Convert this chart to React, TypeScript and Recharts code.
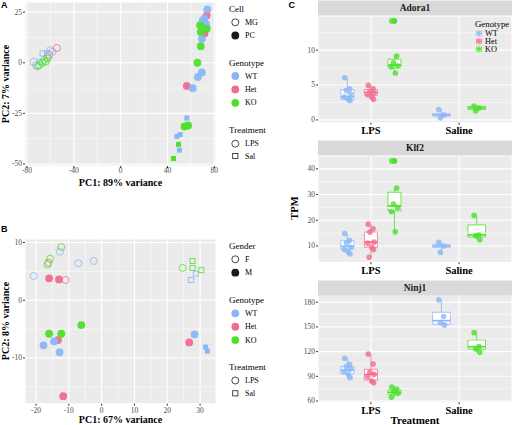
import React from 'react';
import {
  ScatterChart,
  ComposedChart,
  Scatter,
  XAxis,
  YAxis,
  CartesianGrid,
  ReferenceLine,
  ReferenceArea,
} from 'recharts';

const SERIF = '"Liberation Serif", "Times New Roman", serif';
const SANS = '"Liberation Sans", Arial, sans-serif';

const COL: Record<string, string> = { WT: '#8AB6F8', Het: '#F26C8E', KO: '#4CE02C' };
const PANEL_BG = '#EBEBEB';
const STRIP_BG = '#D9D9D9';
const TICK_TEXT = '#4D4D4D';
const TICK_LINE = '#333333';

const GENOTYPES = ['WT', 'Het', 'KO'];
const CELL_LABELS = ['MG', 'PC'];
const GENDER_LABELS = ['F', 'M'];
const TRT_LABELS = ['LPS', 'Sal'];
const TREATMENT_CATS = ['LPS', 'Saline'];

// ---------- Panel A ----------
const A_X_TICKS = [-80, -40, 0, 40, 80];
const A_X_MINOR = [-60, -20, 20, 60];
const A_Y_TICKS = [-50, -25, 0, 25];
const A_Y_MINOR = [-37.5, -12.5, 12.5];

const A_WT_MG_LPS = [
  { x: -74.3, y: 0.5 }, { x: -72.4, y: -1.2 }, { x: -62.4, y: 2.9 }, { x: -60.2, y: 6.2 }, { x: -58.2, y: 5.4 },
];
const A_WT_MG_SAL = [{ x: -68.7, y: 0.5 }, { x: -66.7, y: 4.6 }, { x: -63.0, y: 4.9 }];
const A_HET_MG_LPS = [{ x: -54.5, y: 7.3 }, { x: -61.0, y: 4.0 }];
const A_KO_MG_LPS = [
  { x: -70.9, y: -1.7 }, { x: -69.5, y: -1.2 }, { x: -66.7, y: 0.0 }, { x: -65.3, y: 1.3 }, { x: -63.9, y: 0.5 }, { x: -62.4, y: 2.1 },
];
const A_WT_PC_LPS = [
  { x: 74.0, y: 26.3 }, { x: 71.5, y: 21.8 }, { x: 70.1, y: 20.9 }, { x: 72.9, y: 19.0 }, { x: 69.3, y: 11.9 },
  { x: 69.3, y: -4.8 }, { x: 65.9, y: -7.0 }, { x: 61.6, y: -12.6 },
];
const A_HET_PC_LPS = [{ x: 73.5, y: 23.4 }, { x: 71.5, y: 14.4 }, { x: 56.5, y: -11.5 }];
const A_KO_PC_LPS = [
  { x: 67.8, y: 18.5 }, { x: 73.5, y: 16.8 }, { x: 68.4, y: 15.2 }, { x: 68.4, y: 8.2 }, { x: 65.5, y: 0.0 },
  { x: 54.5, y: -31.5 }, { x: 57.6, y: -31.0 },
];
const A_WT_PC_SAL = [{ x: 56.5, y: -27.3 }, { x: 48.0, y: -36.4 }, { x: 50.8, y: -35.5 }, { x: 50.2, y: -43.2 }];
const A_KO_PC_SAL = [{ x: 49.4, y: -40.3 }, { x: 45.1, y: -47.3 }];

// ---------- Panel B ----------
const B_X_TICKS = [-20, -10, 0, 10, 20, 30];
const B_X_MINOR = [-15, -5, 5, 15, 25];
const B_Y_TICKS = [-10, 0, 10];
const B_Y_MINOR = [-15, -5, 5];

const B_WT_F_LPS = [{ x: -12.7, y: 8.4 }, { x: -7.1, y: 6.4 }, { x: -2.4, y: 6.8 }, { x: -20.7, y: 4.2 }];
const B_HET_F_LPS = [{ x: -16.2, y: 6.5 }, { x: -11.0, y: 3.5 }];
const B_KO_F_LPS = [{ x: -12.3, y: 9.2 }, { x: -15.7, y: 7.2 }, { x: -16.5, y: 6.2 }, { x: 24.7, y: 5.6 }];
const B_WT_F_SAL = [{ x: 28.7, y: 4.6 }, { x: 27.2, y: 3.5 }];
const B_KO_F_SAL = [{ x: 27.7, y: 6.8 }, { x: 27.7, y: 5.6 }, { x: 30.4, y: 5.2 }];
const B_WT_M_LPS = [{ x: -14.5, y: -7.1 }, { x: -17.7, y: -7.8 }, { x: -12.8, y: -9.0 }, { x: 28.3, y: -5.9 }];
const B_HET_M_LPS = [{ x: -16.0, y: 3.8 }, { x: -13.0, y: 3.6 }, { x: -13.3, y: -6.9 }, { x: -11.7, y: -16.6 }, { x: 26.7, y: -7.3 }];
const B_KO_M_LPS = [{ x: -6.2, y: -4.3 }, { x: -16.0, y: -5.8 }, { x: -12.3, y: -5.8 }];
const B_WT_M_SAL = [{ x: 31.7, y: -8.1 }, { x: 32.2, y: -8.8 }];

// ---------- Panel C ----------
const POS: Record<string, number> = { LPS: 1, Saline: 2 };
const DODGE: Record<string, Record<string, number>> = {
  LPS: { WT: -0.267, Het: 0, KO: 0.267 },
  Saline: { WT: -0.2, KO: 0.2 },
};
const HALF: Record<string, number> = { LPS: 0.074, Saline: 0.1 };
const JITTER = [-0.03, 0.025, -0.012, 0.035, -0.035, 0.01, 0.03, -0.02];

const ADORA1_BOX = [
  { trt: 'LPS', geno: 'WT', lo: 2.8, q1: 2.95, med: 3.3, q3: 4.35, hi: 6.05, out: [] as number[] },
  { trt: 'LPS', geno: 'Het', lo: 2.95, q1: 3.55, med: 3.95, q3: 4.35, hi: 4.95, out: [] as number[] },
  { trt: 'LPS', geno: 'KO', lo: 6.7, q1: 7.5, med: 7.85, q3: 8.7, hi: 9.15, out: [14.2] },
  { trt: 'Saline', geno: 'WT', lo: 0.3, q1: 0.55, med: 0.72, q3: 0.87, hi: 1.5, out: [] as number[] },
  { trt: 'Saline', geno: 'KO', lo: 1.3, q1: 1.5, med: 1.73, q3: 1.95, hi: 2.0, out: [] as number[] },
];
const ADORA1_LPS_WT = [6.05, 4.45, 4.2, 3.7, 3.3, 2.95, 2.8];
const ADORA1_LPS_HET = [4.95, 4.45, 4.1, 3.85, 3.6, 3.3, 2.95];
const ADORA1_LPS_KO = [14.2, 9.15, 8.2, 7.75, 7.6, 6.7];
const ADORA1_SAL_WT = [1.5, 0.7, 0.3];
const ADORA1_SAL_KO = [2.0, 1.7, 1.3];

const KLF2_BOX = [
  { trt: 'LPS', geno: 'WT', lo: 6.9, q1: 8.8, med: 9.85, q3: 12.2, hi: 14.8, out: [] as number[] },
  { trt: 'LPS', geno: 'Het', lo: 5.6, q1: 9.5, med: 11.5, q3: 15.4, hi: 18.5, out: [] as number[] },
  { trt: 'LPS', geno: 'KO', lo: 15.5, q1: 23.7, med: 25.6, q3: 30.9, hi: 32.5, out: [43.1] },
  { trt: 'Saline', geno: 'WT', lo: 7.5, q1: 9.5, med: 10.0, q3: 10.5, hi: 11.4, out: [] as number[] },
  { trt: 'Saline', geno: 'KO', lo: 12.4, q1: 13.5, med: 14.3, q3: 18.2, hi: 21.9, out: [] as number[] },
];
const KLF2_LPS_WT = [14.8, 12.1, 11.2, 9.5, 8.6, 7.7, 6.9];
const KLF2_LPS_HET = [18.5, 16.7, 15.4, 11.5, 11.1, 9.5, 8.6, 5.6];
const KLF2_LPS_KO = [43.1, 32.5, 26.3, 25.0, 23.4, 15.5];
const KLF2_SAL_WT = [11.4, 10.0, 7.5];
const KLF2_SAL_KO = [21.9, 14.3, 14.0, 12.4];

const NINJ1_BOX = [
  { trt: 'LPS', geno: 'WT', lo: 88.4, q1: 92.8, med: 97.7, q3: 101.7, hi: 111.9, out: [] as number[] },
  { trt: 'LPS', geno: 'Het', lo: 82.3, q1: 85.5, med: 92.4, q3: 98.5, hi: 117.1, out: [] as number[] },
  { trt: 'LPS', geno: 'KO', lo: 64.5, q1: 68.1, med: 70.6, q3: 73.4, hi: 77.0, out: [] as number[] },
  { trt: 'Saline', geno: 'WT', lo: 152.4, q1: 153.2, med: 157.6, q3: 167.8, hi: 182.8, out: [] as number[] },
  { trt: 'Saline', geno: 'KO', lo: 119.1, q1: 123.2, med: 126.0, q3: 134.1, hi: 143.0, out: [] as number[] },
];
const NINJ1_LPS_WT = [111.9, 104.6, 101.8, 99.0, 95.7, 92.9, 88.4];
const NINJ1_LPS_HET = [117.1, 105.0, 94.9, 92.4, 89.6, 84.4, 82.3];
const NINJ1_LPS_KO = [77.0, 74.6, 71.3, 69.3, 64.5];
const NINJ1_SAL_WT = [182.8, 162.5, 155.2, 152.4];
const NINJ1_SAL_KO = [143.0, 126.0, 123.2, 119.1];

type Pt = { x: number; y: number };
type Series = { data: Pt[]; color: string; filled: boolean; square: boolean };

// custom tick renderers (explicit serif font)
function XTickNum(p: any) {
  return (
    <text x={p.x} y={p.y} dy="0.71em" textAnchor="middle" fontFamily={SERIF} fontSize={7.5} fill={TICK_TEXT}>
      {String(p.payload.value)}
    </text>
  );
}
function YTickNum(p: any) {
  return (
    <text x={p.x} y={p.y} dy="0.32em" textAnchor="end" fontFamily={SERIF} fontSize={7.5} fill={TICK_TEXT}>
      {String(p.payload.value)}
    </text>
  );
}
function XTickCat(p: any) {
  return (
    <text x={p.x} y={p.y} dy="0.71em" textAnchor="middle" fontFamily={SERIF} fontWeight="bold" fontSize={10.5} fill="#000000">
      {TREATMENT_CATS[p.payload.value - 1]}
    </text>
  );
}

function makeShape(color: string, filled: boolean, square: boolean) {
  return (p: any) => {
    const { cx, cy } = p;
    if (typeof cx !== 'number' || typeof cy !== 'number') return <g />;
    if (square) {
      const s = 5;
      return filled ? (
        <rect x={cx - s / 2} y={cy - s / 2} width={s} height={s} fill={color} />
      ) : (
        <rect x={cx - s / 2} y={cy - s / 2} width={s} height={s} fill="none" stroke={color} strokeWidth={0.8} />
      );
    }
    return filled ? (
      <circle cx={cx} cy={cy} r={3.9} fill={color} fillOpacity={0.95} />
    ) : (
      <circle cx={cx} cy={cy} r={3.5} fill="none" stroke={color} strokeWidth={0.8} />
    );
  };
}

function PcaChart(props: {
  plotTop: number;
  plotBottom: number;
  xDomain: number[];
  yDomain: number[];
  xTicks: number[];
  yTicks: number[];
  xMinor: number[];
  yMinor: number[];
  series: Series[];
  tickMargin: number;
}) {
  const { plotTop, plotBottom, xDomain, yDomain, xTicks, yTicks, xMinor, yMinor, series, tickMargin } = props;
  const xAxisH = 14;
  return (
    <div style={{ position: 'absolute', left: 0, top: plotTop }}>
      <ScatterChart width={226} height={plotBottom - plotTop + xAxisH} margin={{ top: 0, right: 10, left: 0, bottom: 0 }}>
        <CartesianGrid fill={PANEL_BG} stroke="#FFFFFF" strokeWidth={1.1} />
        {xMinor.map((v) => (
          <ReferenceLine key={'vx' + v} x={v} stroke="#FFFFFF" strokeWidth={0.5} />
        ))}
        {yMinor.map((v) => (
          <ReferenceLine key={'vy' + v} y={v} stroke="#FFFFFF" strokeWidth={0.5} />
        ))}
        <XAxis
          type="number"
          dataKey="x"
          domain={xDomain}
          ticks={xTicks}
          allowDataOverflow
          interval={0}
          axisLine={false}
          tickLine={{ stroke: TICK_LINE }}
          tickSize={2}
          tickMargin={tickMargin}
          height={xAxisH}
          tick={XTickNum}
        />
        <YAxis
          type="number"
          dataKey="y"
          domain={yDomain}
          ticks={yTicks}
          allowDataOverflow
          interval={0}
          axisLine={false}
          tickLine={{ stroke: TICK_LINE }}
          tickSize={2}
          tickMargin={1}
          width={25}
          tick={YTickNum}
        />
        {series.map((s, i) => (
          <Scatter key={i} data={s.data} isAnimationActive={false} shape={makeShape(s.color, s.filled, s.square)} />
        ))}
      </ScatterChart>
    </div>
  );
}

type Box = { trt: string; geno: string; lo: number; q1: number; med: number; q3: number; hi: number; out: number[] };
type Group = { trt: string; geno: string; vals: number[] };

function Facet(props: {
  plotTop: number;
  plotBottom: number;
  domain: number[];
  ticks: number[];
  minor: number[];
  boxes: Box[];
  groups: Group[];
}) {
  const { plotTop, plotBottom, domain, ticks, minor, boxes, groups } = props;
  const xAxisH = 18;
  const series = GENOTYPES.map((g) => ({
    g,
    data: groups
      .filter((gr) => gr.geno === g)
      .flatMap((gr) => gr.vals.map((v, i) => ({ x: POS[gr.trt] + DODGE[gr.trt][g] + JITTER[i], y: v }))),
  }));
  const outliers = boxes.flatMap((b) => b.out.map((v) => ({ x: POS[b.trt] + DODGE[b.trt][b.geno], y: v, geno: b.geno })));
  return (
    <div style={{ position: 'absolute', left: 288, top: plotTop }}>
      <ComposedChart width={224} height={plotBottom - plotTop + xAxisH} margin={{ top: 0, right: 0, left: 0, bottom: 0 }}>
        <CartesianGrid fill={PANEL_BG} stroke="#FFFFFF" strokeWidth={1.1} />
        {minor.map((v) => (
          <ReferenceLine key={'m' + v} y={v} stroke="#FFFFFF" strokeWidth={0.5} />
        ))}
        <XAxis
          type="number"
          dataKey="x"
          domain={[0.4, 2.6]}
          ticks={[1, 2]}
          allowDataOverflow
          interval={0}
          axisLine={false}
          tickLine={{ stroke: TICK_LINE }}
          tickSize={2}
          tickMargin={2}
          height={xAxisH}
          tick={XTickCat}
        />
        <YAxis
          type="number"
          dataKey="y"
          domain={domain}
          ticks={ticks}
          allowDataOverflow
          interval={0}
          axisLine={false}
          tickLine={{ stroke: TICK_LINE }}
          tickSize={2}
          tickMargin={1}
          width={30}
          tick={YTickNum}
        />
        {boxes.map((b) => {
          const cx = POS[b.trt] + DODGE[b.trt][b.geno];
          const hw = HALF[b.trt];
          const c = COL[b.geno];
          return (
            <React.Fragment key={b.trt + b.geno}>
              <ReferenceLine segment={[{ x: cx, y: b.q3 }, { x: cx, y: b.hi }]} stroke={c} strokeWidth={0.8} />
              <ReferenceLine segment={[{ x: cx, y: b.lo }, { x: cx, y: b.q1 }]} stroke={c} strokeWidth={0.8} />
              <ReferenceArea x1={cx - hw} x2={cx + hw} y1={b.q1} y2={b.q3} fill="#FFFFFF" fillOpacity={1} stroke={c} strokeWidth={0.8} />
              <ReferenceLine segment={[{ x: cx - hw, y: b.med }, { x: cx + hw, y: b.med }]} stroke={c} strokeWidth={1.6} />
            </React.Fragment>
          );
        })}
        {outliers.length > 0 &&
          GENOTYPES.map((g) => {
            const d = outliers.filter((o) => o.geno === g);
            if (!d.length) return null;
            return (
              <Scatter
                key={'o' + g}
                data={d}
                isAnimationActive={false}
                shape={(p: any) => <circle cx={p.cx} cy={p.cy} r={2.8} fill={COL[g]} />}
              />
            );
          })}
        {series.map((s) => (
          <Scatter
            key={s.g}
            data={s.data}
            isAnimationActive={false}
            shape={(p: any) => <circle cx={p.cx} cy={p.cy} r={2.8} fill={COL[s.g]} fillOpacity={0.8} />}
          />
        ))}
      </ComposedChart>
    </div>
  );
}

function LegendSymbol({ x, y, kind, color }: { x: number; y: number; kind: string; color: string }) {
  if (kind === 'hollow') return <circle cx={x} cy={y} r={3.5} fill="none" stroke={color} strokeWidth={0.8} />;
  if (kind === 'square') return <rect x={x - 2.6} y={y - 2.6} width={5.2} height={5.2} fill="none" stroke={color} strokeWidth={0.8} />;
  return <circle cx={x} cy={y} r={3.9} fill={color} />;
}

function PcaLegend({ rows }: { rows: { y: number; label: string; title?: boolean; kind?: string; color?: string }[] }) {
  return (
    <g>
      {rows.map((r, i) =>
        r.title ? (
          <text key={i} x={229} y={r.y} dominantBaseline="central" fontFamily={SERIF} fontSize={9} fill="#000">
            {r.label}
          </text>
        ) : (
          <g key={i}>
            <LegendSymbol x={235.3} y={r.y} kind={r.kind || 'filled'} color={r.color || '#000'} />
            <text x={245} y={r.y} dominantBaseline="central" fontFamily={SERIF} fontSize={8} fill="#000">
              {r.label}
            </text>
          </g>
        )
      )}
    </g>
  );
}

const BLACK = '#1A1A1A';

export default function App() {
  const aSeries: Series[] = [
    { data: A_WT_MG_LPS, color: COL.WT, filled: false, square: false },
    { data: A_WT_MG_SAL, color: COL.WT, filled: false, square: true },
    { data: A_HET_MG_LPS, color: COL.Het, filled: false, square: false },
    { data: A_KO_MG_LPS, color: COL.KO, filled: false, square: false },
    { data: A_HET_PC_LPS, color: COL.Het, filled: true, square: false },
    { data: A_WT_PC_LPS, color: COL.WT, filled: true, square: false },
    { data: A_KO_PC_LPS, color: COL.KO, filled: true, square: false },
    { data: A_WT_PC_SAL, color: COL.WT, filled: true, square: true },
    { data: A_KO_PC_SAL, color: COL.KO, filled: true, square: true },
  ];
  const bSeries: Series[] = [
    { data: B_WT_F_LPS, color: COL.WT, filled: false, square: false },
    { data: B_HET_F_LPS, color: COL.Het, filled: false, square: false },
    { data: B_KO_F_LPS, color: COL.KO, filled: false, square: false },
    { data: B_WT_F_SAL, color: COL.WT, filled: false, square: true },
    { data: B_KO_F_SAL, color: COL.KO, filled: false, square: true },
    { data: B_HET_M_LPS, color: COL.Het, filled: true, square: false },
    { data: B_WT_M_LPS, color: COL.WT, filled: true, square: false },
    { data: B_KO_M_LPS, color: COL.KO, filled: true, square: false },
    { data: B_WT_M_SAL, color: COL.WT, filled: true, square: true },
  ];

  const adora1Groups: Group[] = [
    { trt: 'LPS', geno: 'WT', vals: ADORA1_LPS_WT },
    { trt: 'LPS', geno: 'Het', vals: ADORA1_LPS_HET },
    { trt: 'LPS', geno: 'KO', vals: ADORA1_LPS_KO },
    { trt: 'Saline', geno: 'WT', vals: ADORA1_SAL_WT },
    { trt: 'Saline', geno: 'KO', vals: ADORA1_SAL_KO },
  ];
  const klf2Groups: Group[] = [
    { trt: 'LPS', geno: 'WT', vals: KLF2_LPS_WT },
    { trt: 'LPS', geno: 'Het', vals: KLF2_LPS_HET },
    { trt: 'LPS', geno: 'KO', vals: KLF2_LPS_KO },
    { trt: 'Saline', geno: 'WT', vals: KLF2_SAL_WT },
    { trt: 'Saline', geno: 'KO', vals: KLF2_SAL_KO },
  ];
  const ninj1Groups: Group[] = [
    { trt: 'LPS', geno: 'WT', vals: NINJ1_LPS_WT },
    { trt: 'LPS', geno: 'Het', vals: NINJ1_LPS_HET },
    { trt: 'LPS', geno: 'KO', vals: NINJ1_LPS_KO },
    { trt: 'Saline', geno: 'WT', vals: NINJ1_SAL_WT },
    { trt: 'Saline', geno: 'KO', vals: NINJ1_SAL_KO },
  ];

  const aLegend = [
    { y: 8.5, label: 'Cell', title: true },
    { y: 22.3, label: CELL_LABELS[0], kind: 'hollow', color: BLACK },
    { y: 35.5, label: CELL_LABELS[1], kind: 'filled', color: BLACK },
    { y: 62.5, label: 'Genotype', title: true },
    ...GENOTYPES.map((g, i) => ({ y: 76 + i * 13.4, label: g, kind: 'filled', color: COL[g] })),
    { y: 130, label: 'Treatment', title: true },
    { y: 143.7, label: TRT_LABELS[0], kind: 'hollow', color: BLACK },
    { y: 156, label: TRT_LABELS[1], kind: 'square', color: BLACK },
  ];
  const bLegend = [
    { y: 246, label: 'Gender', title: true },
    { y: 259.3, label: GENDER_LABELS[0], kind: 'hollow', color: BLACK },
    { y: 272.7, label: GENDER_LABELS[1], kind: 'filled', color: BLACK },
    { y: 300, label: 'Genotype', title: true },
    ...GENOTYPES.map((g, i) => ({ y: 313.3 + i * 13.4, label: g, kind: 'filled', color: COL[g] })),
    { y: 366.7, label: 'Treatment', title: true },
    { y: 380.5, label: TRT_LABELS[0], kind: 'hollow', color: BLACK },
    { y: 393.3, label: TRT_LABELS[1], kind: 'square', color: BLACK },
  ];

  const strips = [
    { y: 0.5, label: 'Adora1' },
    { y: 140.5, label: 'Klf2' },
    { y: 280.5, label: 'Ninj1' },
  ];

  return (
    <div style={{ position: 'absolute', left: 0, top: 0, width: 512, height: 425, background: '#FFFFFF', overflow: 'hidden', fontFamily: SERIF }}>
      <PcaChart
        plotTop={2}
        plotBottom={166}
        xDomain={[-81.7, 81.4]}
        yDomain={[-51, 30]}
        xTicks={A_X_TICKS}
        yTicks={A_Y_TICKS}
        xMinor={A_X_MINOR}
        yMinor={A_Y_MINOR}
        series={aSeries}
        tickMargin={0}
      />
      <PcaChart
        plotTop={238.8}
        plotBottom={403.5}
        xDomain={[-23.35, 34.85]}
        yDomain={[-17.9, 10.6]}
        xTicks={B_X_TICKS}
        yTicks={B_Y_TICKS}
        xMinor={B_X_MINOR}
        yMinor={B_Y_MINOR}
        series={bSeries}
        tickMargin={1.5}
      />
      <Facet plotTop={16} plotBottom={122.7} domain={[-0.4, 14.9]} ticks={[0, 5, 10]} minor={[2.5, 7.5, 12.5]} boxes={ADORA1_BOX} groups={adora1Groups} />
      <Facet plotTop={155.8} plotBottom={262} domain={[3.7, 45]} ticks={[10, 20, 30, 40]} minor={[5, 15, 25, 35]} boxes={KLF2_BOX} groups={klf2Groups} />
      <Facet plotTop={295.3} plotBottom={402.5} domain={[58.6, 188.7]} ticks={[60, 90, 120, 150, 180]} minor={[75, 105, 135, 165]} boxes={NINJ1_BOX} groups={ninj1Groups} />

      <svg width={512} height={425} style={{ position: 'absolute', left: 0, top: 0, pointerEvents: 'none' }}>
        {/* panel letters */}
        <text x={1} y={4.5} dominantBaseline="central" fontFamily={SANS} fontWeight="bold" fontSize={9}>A</text>
        <text x={1} y={228.5} dominantBaseline="central" fontFamily={SANS} fontWeight="bold" fontSize={9}>B</text>
        <text x={288.5} y={5} dominantBaseline="central" fontFamily={SANS} fontWeight="bold" fontSize={9}>C</text>

        {/* axis titles A */}
        <text x={120.5} y={182.3} textAnchor="middle" dominantBaseline="central" fontFamily={SERIF} fontWeight="bold" fontSize={10}>
          PC1: 89% variance
        </text>
        <text x={5.5} y={84} textAnchor="middle" dominantBaseline="central" fontFamily={SERIF} fontWeight="bold" fontSize={10} transform="rotate(-90 5.5 84)">
          PC2: 7% variance
        </text>
        {/* axis titles B */}
        <text x={120.5} y={419.3} textAnchor="middle" dominantBaseline="central" fontFamily={SERIF} fontWeight="bold" fontSize={10}>
          PC1: 67% variance
        </text>
        <text x={5.5} y={321} textAnchor="middle" dominantBaseline="central" fontFamily={SERIF} fontWeight="bold" fontSize={10} transform="rotate(-90 5.5 321)">
          PC2: 8% variance
        </text>

        <PcaLegend rows={aLegend} />
        <PcaLegend rows={bLegend} />

        {/* facet strips */}
        {strips.map((s) => (
          <g key={s.label}>
            <rect x={318} y={s.y} width={194} height={15} fill={STRIP_BG} />
            <text x={415} y={s.y + 7.8} textAnchor="middle" dominantBaseline="central" fontFamily={SERIF} fontWeight="bold" fontSize={9.5} fill="#1A1A1A">
              {s.label}
            </text>
          </g>
        ))}

        {/* C axis titles */}
        <text x={294.3} y={208} textAnchor="middle" dominantBaseline="central" fontFamily={SERIF} fontWeight="bold" fontSize={10.5} transform="rotate(-90 294.3 208)">
          TPM
        </text>
        <text x={415} y={419.5} textAnchor="middle" dominantBaseline="central" fontFamily={SERIF} fontWeight="bold" fontSize={11}>
          Treatment
        </text>

        {/* C legend */}
        <text x={475} y={24} dominantBaseline="central" fontFamily={SERIF} fontSize={8.8} fill="#000">Genotype</text>
        {GENOTYPES.map((g, i) => {
          const y = 33.3 + i * 7.9;
          const c = COL[g];
          return (
            <g key={g}>
              <line x1={479} y1={y - 3.3} x2={479} y2={y + 3.3} stroke={c} strokeWidth={0.7} />
              <rect x={476.3} y={y - 2} width={5.4} height={4} fill="#FFFFFF" stroke={c} strokeWidth={0.7} />
              <line x1={476.3} y1={y} x2={481.7} y2={y} stroke={c} strokeWidth={1.1} />
              <circle cx={479} cy={y} r={1.9} fill={c} fillOpacity={0.8} />
              <text x={485} y={y} dominantBaseline="central" fontFamily={SERIF} fontSize={8.3} fill="#000">{g}</text>
            </g>
          );
        })}
      </svg>
    </div>
  );
}
